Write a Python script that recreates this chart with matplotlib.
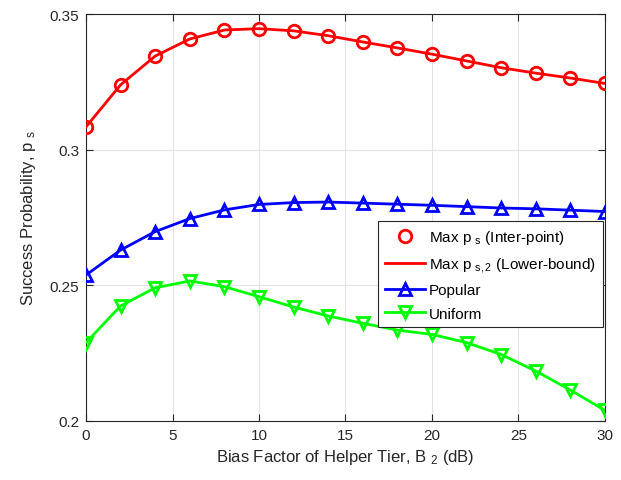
import matplotlib
matplotlib.use("Agg")
import matplotlib.pyplot as plt

plt.rcParams['font.family'] = ['Liberation Sans', 'DejaVu Sans']
plt.rcParams['mathtext.fontset'] = 'custom'
plt.rcParams['mathtext.rm'] = 'Liberation Sans'
plt.rcParams['mathtext.it'] = 'Liberation Sans'

bias_db = [0, 2, 4, 6, 8, 10, 12, 14, 16, 18, 20, 22, 24, 26, 28, 30]
max_ps = [0.3084, 0.3239, 0.3345, 0.3408, 0.3441, 0.3446, 0.3438, 0.3420,
          0.3397, 0.3375, 0.3352, 0.3327, 0.3302, 0.3282, 0.3264, 0.3244]
max_ps2 = max_ps
popular = [0.2538, 0.2630, 0.2698, 0.2746, 0.2778, 0.2798, 0.2805, 0.2807,
           0.2803, 0.2799, 0.2795, 0.2790, 0.2785, 0.2782, 0.2777, 0.2772]
uniform = [0.2289, 0.2424, 0.2491, 0.2516, 0.2495, 0.2458, 0.2420, 0.2387,
           0.2360, 0.2335, 0.2319, 0.2289, 0.2245, 0.2184, 0.2114, 0.2039]

xticks = [0, 5, 10, 15, 20, 25, 30]
yticks = [0.2, 0.25, 0.3, 0.35]
ytick_labels = ['0.2', '0.25', '0.3', '0.35']

fig = plt.figure(figsize=(6.21, 4.81), dpi=100)
ax = fig.add_axes([0.1385, 0.1227, 0.8357, 0.8461])

lw = 2.0
ms = 9
mew = 2.0
ax.plot(bias_db, max_ps, linestyle='none', marker='o', ms=ms, mew=mew,
        mfc='none', mec=(1, 0, 0), label=r'Max p $_{\mathrm{s}}$ (Inter-point)', zorder=4)
ax.plot(bias_db, max_ps2, color=(1, 0, 0), lw=lw,
        label=r'Max p $_{\mathrm{s,2}}$ (Lower-bound)', zorder=3)
ax.plot(bias_db, popular, color=(0, 0, 1), lw=lw, marker='^', ms=ms, mew=mew,
        mfc='none', mec=(0, 0, 1), label='Popular', zorder=3)
ax.plot(bias_db, uniform, color=(0, 1, 0), lw=lw, marker='v', ms=ms, mew=mew,
        mfc='none', mec=(0, 1, 0), label='Uniform', zorder=3)

ax.set_xlim(0, 30)
ax.set_ylim(0.2, 0.35)
ax.set_xticks(xticks)
ax.set_yticks(yticks)
ax.set_yticklabels(ytick_labels)
ax.tick_params(direction='in', top=True, right=True, labelsize=11,
               colors='#262626', length=5, width=0.8, pad=5)
ax.grid(True, color='#e3e3e3', lw=0.8)
ax.set_axisbelow(True)
for s in ax.spines.values():
    s.set_color('#262626')
    s.set_linewidth(0.8)

ax.set_xlabel(r'Bias Factor of Helper Tier, B $_{2}$ (dB)', fontsize=12, color='#262626', labelpad=4)
ax.set_ylabel(r'Success Probability, p $_{\mathrm{s}}$', fontsize=12, color='#262626', labelpad=8)

leg = ax.legend(loc='upper right', bbox_to_anchor=(0.996, 0.491), fontsize=11,
                fancybox=False, framealpha=1, edgecolor='#262626',
                borderpad=0.45, labelspacing=0.6, handlelength=2.6,
                handletextpad=0.3, borderaxespad=0)
leg.get_frame().set_linewidth(0.8)

fig.savefig('out.png', dpi=100)
